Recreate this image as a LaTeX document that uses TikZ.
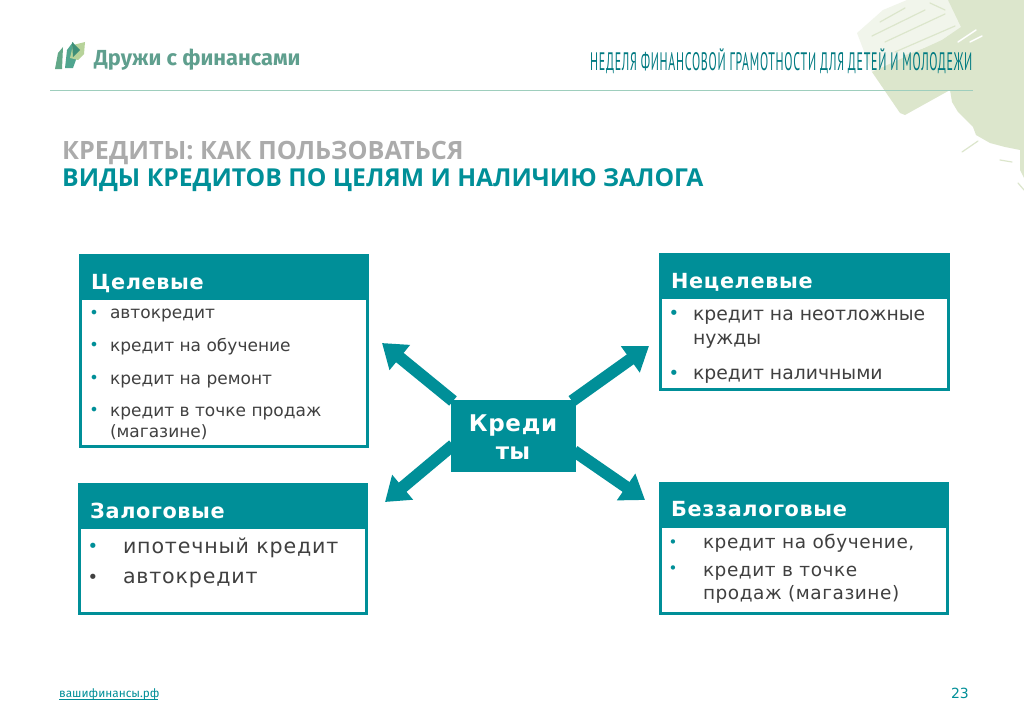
\documentclass[tikz,border=0pt]{standalone}
\usepackage{fontspec}
\usepackage{graphicx}
\setmainfont{DejaVu Sans}
\newfontfamily\ttlfont{Open Sans}
\newfontfamily\logofont{Fira Sans}
\newfontfamily\slimfont{PT Sans}
\usetikzlibrary{arrows.meta,backgrounds}
\definecolor{teal1}{HTML}{008F98}
\definecolor{ink}{HTML}{404040}
\definecolor{paint}{HTML}{DCE6CC}
\definecolor{paintlt}{HTML}{F1F5EB}
\definecolor{logotxt}{HTML}{5F9F8E}
\definecolor{leafA}{HTML}{62A888}
\definecolor{leafB}{HTML}{4FA58F}
\definecolor{leafC}{HTML}{B7D39A}
\definecolor{leafD}{HTML}{3E8F78}
\tikzset{
  x=1pt,y=-1pt,
  txt/.style={anchor=base west,inner sep=0pt,outer sep=0pt,text=ink},
  head/.style={draw=teal1,fill=teal1,line width=1pt,inner sep=0pt,outer sep=0pt,minimum width=#1,minimum height=44pt,anchor=north west},
  bodybox/.style={draw=teal1,fill=white,line width=3pt,inner sep=0pt,outer sep=0pt,anchor=north west},
  bulletmark/.style={anchor=base,inner sep=0pt,outer sep=0pt,text=teal1},
  bigarrow/.style={draw=teal1,line width=12pt,-{Triangle[length=23pt,width=31pt]}},
  wisp/.style={draw=white,line width=1.5pt,line cap=round},
  wispg/.style={draw=paint,line width=1.2pt,line cap=round},
}
\begin{document}
\begin{tikzpicture}
\useasboundingbox (0,0) rectangle (1024,725);
% paint
\begin{scope}[on background layer]
\fill[white] (0,0) rectangle (1024,725);
\fill[paintlt] (857,33) -- (883,10) -- (907,0) -- (948,0) -- (962,27) -- (980,38) -- (940,50) -- (872,72) -- cycle;
\draw[wispg] (880,22) -- (905,8);
\draw[wispg] (872,36) -- (925,10);
\draw[wispg] (885,42) -- (945,14);
\draw[wispg] (895,52) -- (955,26);
\draw[wispg] (905,56) -- (960,36);
\draw[wispg] (930,3) -- (945,10);
\fill[paint] (948,0) -- (961,27) -- (942,40) -- (872,72) -- (900,113) -- (905,115) -- (950,90) -- (952,102) -- (958,112) -- (966,120) -- (973,127) -- (976,135) -- (990,143) -- (1005,147) -- (1020,150) -- (1020,170) -- (1024,178) -- (1024,0) -- cycle;
\draw[wisp] (958,42) -- (976,30);
\draw[wisp] (970,42) -- (982,36);
\draw[wispg] (962,152) -- (978,141);
\draw[wispg] (1000,160) -- (1012,162);
\draw[wispg] (1018,183) -- (1024,190);
\end{scope}
% logo
\fill[leafA] (55,69) -- (58,53) -- (63,47) -- (62,69) -- cycle;
\fill[leafB] (65,68) -- (67,50) -- (73,42) -- (77,57) -- (73,68) -- cycle;
\fill[leafC] (73,45) -- (85,42) -- (84,54) -- (78,60) -- (70,58) -- cycle;
\fill[leafD] (72,42) -- (80,50) -- (73,57) -- cycle;
\node[anchor=base west,inner sep=0pt,text=logotxt] (brand) at (94,65) {\logofont\bfseries\fontsize{21.8}{26}\selectfont Дружи с финансами};
\node[anchor=west,inner sep=0pt,text=teal1!85!black] (week) at (590,61) {\resizebox{382pt}{22pt}{\slimfont\addfontfeature{LetterSpace=6}НЕДЕЛЯ ФИНАНСОВОЙ ГРАМОТНОСТИ ДЛЯ ДЕТЕЙ И МОЛОДЕЖИ}};
\coordinate (ruleA) at (50,90);
\coordinate (ruleB) at (973,90);
\draw[color=teal1!28!paint,line width=1pt] (ruleA) -- (ruleB);
% titles
\node[anchor=base west,inner sep=0pt,text=black!33] (t1) at (62,159) {\ttlfont\bfseries\fontsize{25.2}{28}\selectfont КРЕДИТЫ: КАК ПОЛЬЗОВАТЬСЯ};
\node[anchor=base west,inner sep=0pt,text=teal1] (t2) at (62,186) {\ttlfont\bfseries\fontsize{24.7}{28}\selectfont ВИДЫ КРЕДИТОВ ПО ЦЕЛЯМ И НАЛИЧИЮ ЗАЛОГА};
% boxes
\node[bodybox,minimum width=287pt,minimum height=191pt] (b1) at (80.5,255.5) {};
\node[head=288pt] (h1) at (80,255) {};
\node[bodybox,minimum width=288pt,minimum height=135pt] (b2) at (660.5,254.5) {};
\node[head=289pt] (h2) at (660,254) {};
\node[bodybox,minimum width=287pt,minimum height=129pt] (b3) at (79.5,484.5) {};
\node[head=288pt] (h3) at (79,484) {};
\node[bodybox,minimum width=287pt,minimum height=130pt] (b4) at (660.5,483.5) {};
\node[head=288pt] (h4) at (660,483) {};
\tikzset{headtxt/.style={anchor=base west,inner sep=0pt,text=white,font=\bfseries\fontsize{20.8}{24}\selectfont\addfontfeature{LetterSpace=3}}}
\node[headtxt] (h1t) at (91,289) {Целевые};
\node[headtxt] (h2t) at (671,288) {Нецелевые};
\node[headtxt] (h3t) at (90,518) {Залоговые};
\node[headtxt] (h4t) at (671,516) {Беззалоговые};
\tikzset{itemA/.style={txt,font=\fontsize{17}{21}\selectfont},
 itemB/.style={txt,font=\fontsize{18.8}{24}\selectfont},
 itemC/.style={txt,font=\fontsize{20.6}{24}\selectfont\addfontfeature{LetterSpace=4}},
 itemD/.style={txt,font=\fontsize{18.5}{22}\selectfont\addfontfeature{LetterSpace=3}}}
% list 1
\node[bulletmark,font=\fontsize{16}{20}\selectfont] (p1) at (94,318) {•};
\node[itemA] (i1) at (110,318.5) {автокредит};
\node[bulletmark,font=\fontsize{16}{20}\selectfont] (p2) at (94,350) {•};
\node[itemA] (i2) at (110,351) {кредит на обучение};
\node[bulletmark,font=\fontsize{16}{20}\selectfont] (p3) at (94,383) {•};
\node[itemA] (i3) at (110,384) {кредит на ремонт};
\node[bulletmark,font=\fontsize{16}{20}\selectfont] (p4) at (94,415) {•};
\node[itemA] (i4) at (110,416) {кредит в точке продаж};
\node[itemA] (i5) at (110,437) {(магазине)};
% list 2
\node[bulletmark,font=\fontsize{18}{20}\selectfont] (p5) at (674,319) {•};
\node[itemB] (j1) at (693,320) {кредит на неотложные};
\node[itemB] (j2) at (693,344) {нужды};
\node[bulletmark,font=\fontsize{18}{20}\selectfont] (p6) at (674,379) {•};
\node[itemB] (j3) at (693,379) {кредит наличными};
% list 3
\node[bulletmark,font=\fontsize{18}{20}\selectfont] (p7) at (93,552) {•};
\node[itemC] (k1) at (123,553) {ипотечный кредит};
\node[bulletmark,font=\fontsize{18}{20}\selectfont,text=ink] (p8) at (93,583) {•};
\node[itemC] (k2) at (123,583) {автокредит};
% list 4
\node[bulletmark,font=\fontsize{15}{20}\selectfont] (p9) at (673,547) {•};
\node[itemD] (m1) at (703,548.5) {кредит на обучение,};
\node[bulletmark,font=\fontsize{15}{20}\selectfont] (p10) at (673,573) {•};
\node[itemD] (m2) at (703,576) {кредит в точке};
\node[itemD] (m3) at (703,599.5) {продаж (магазине)};
% centre
\node[fill=teal1,inner sep=0pt,outer sep=0pt,minimum width=125pt,minimum height=72pt,anchor=north west] (kr) at (451,400) {};
\node[anchor=base,inner sep=0pt,text=white,font=\bfseries\fontsize{23}{27}\selectfont\addfontfeature{LetterSpace=3}] (kr1) at (513,431) {Креди};
\node[anchor=base,inner sep=0pt,text=white,font=\bfseries\fontsize{23}{27}\selectfont] (kr2) at (513,459) {ты};
\coordinate (aUL) at (382,343);
\coordinate (aUR) at (649,346);
\coordinate (aLL) at (385,502);
\coordinate (aLR) at (645,500);
\begin{scope}[on background layer]
\draw[bigarrow] ([shift={(2,1)}]kr.north west) -- (aUL);
\draw[bigarrow] ([shift={(-4,1)}]kr.north east) -- (aUR);
\draw[bigarrow] ([shift={(2,-27)}]kr.south west) -- (aLL);
\draw[bigarrow] ([shift={(-2,-21)}]kr.south east) -- (aLR);
\end{scope}
% footer
\node[anchor=base west,inner sep=0pt,text=teal1] (site) at (59,697) {\logofont\fontsize{11.8}{16}\selectfont вашифинансы.рф};
\coordinate (siteA) at (59,699);
\coordinate (siteB) at (158,699);
\draw[teal1,line width=0.6pt] (siteA) -- (siteB);
\node[anchor=base east,inner sep=0pt,text=teal1] (pg) at (969,698) {\fontsize{14}{18}\selectfont 23};
\end{tikzpicture}
\end{document}
